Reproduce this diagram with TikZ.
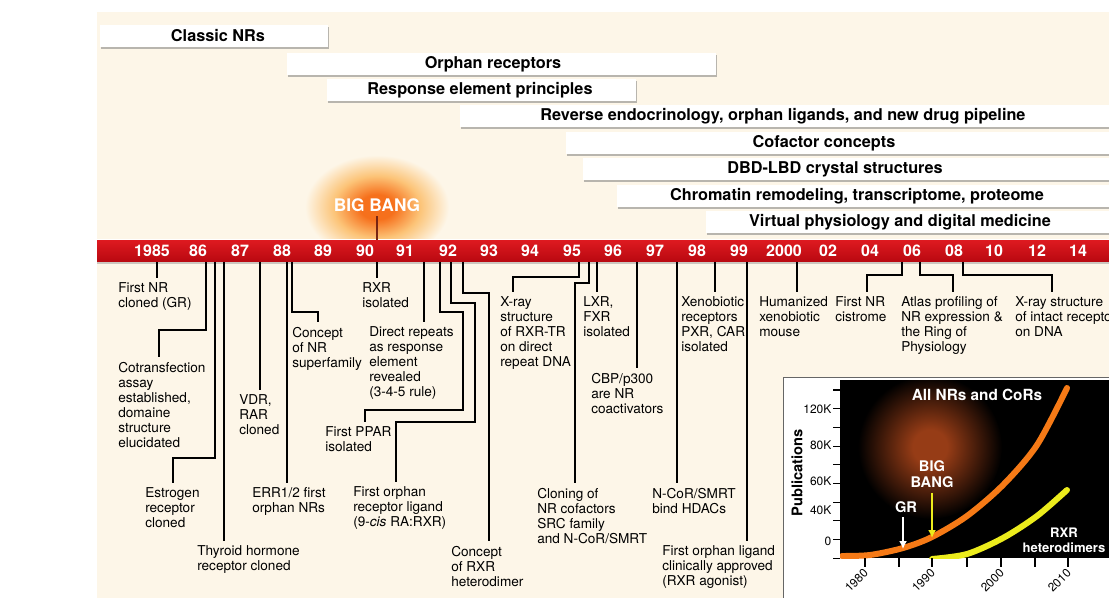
\documentclass[tikz,border=0pt]{standalone}
\usepackage{fontspec}
\setmainfont{TeX Gyre Heros}
\usetikzlibrary{shadows,arrows.meta}
\definecolor{cream}{RGB}{253,246,232}
\definecolor{barred}{RGB}{222,26,32}
\definecolor{bardark}{RGB}{184,8,16}
\definecolor{glowA}{RGB}{246,112,28}
\definecolor{glowB}{RGB}{252,196,120}
\definecolor{plotglowc}{RGB}{150,60,22}
\definecolor{curveor}{RGB}{246,122,22}
\definecolor{curveye}{RGB}{236,236,28}
\definecolor{bangbrown}{RGB}{120,36,18}
\pgfdeclareradialshading{bigglow}{\pgfpoint{0bp}{0bp}}{color(0bp)=(glowA); color(6bp)=(glowA); color(15bp)=(glowB); color(25bp)=(cream); color(50bp)=(cream)}
\pgfdeclareradialshading{plotglow}{\pgfpoint{0bp}{0bp}}{color(0bp)=(plotglowc); color(6bp)=(plotglowc); color(25bp)=(black); color(50bp)=(black)}
\tikzset{
  band/.style={fill=white, drop shadow={shadow xshift=0.6pt, shadow yshift=-1.8pt, opacity=0.55}},
  bandtxt/.style={font=\bfseries\fontsize{12.2}{14}\selectfont},
  year/.style={text=white, font=\bfseries\fontsize{12}{14}\selectfont},
  lab/.style={anchor=north west, align=left, inner xsep=0pt, inner ysep=3.5pt, font=\fontsize{10.2}{11.25}\selectfont},
  con/.style={line width=1.5pt},
  tickmark/.style={line width=0.8pt},
  ax/.style={font=\fontsize{9}{10}\selectfont},
  plottxt/.style={text=white, align=center, font=\bfseries\fontsize{11}{12.5}\selectfont}
}
\begin{document}
\begin{tikzpicture}[x=0.75pt, y=-0.75pt]
\useasboundingbox (0,0) rectangle (1109,598);
\clip (0,0) rectangle (1109,598);
\fill[white] (0,0) rectangle (1109,598);
\fill[cream] (97,12) rectangle (1109,598);

% research areas
\foreach \xa/\xb/\y/\tx/\txt [count=\i] in {
  100/328/36/218/Classic NRs,
  287/716/64/493/Orphan receptors,
  327/636/90/480/Response element principles,
  460/1120/116/783/{Reverse endocrinology, orphan ligands, and new drug pipeline},
  566/1120/143/824/Cofactor concepts,
  583/1120/169/835/DBD-LBD crystal structures,
  617/1120/196/857/{Chromatin remodeling, transcriptome, proteome},
  706/1120/222/900/Virtual physiology and digital medicine}
{
  \path[band] (\xa,\y-11) rectangle (\xb,\y+11);
  \node[bandtxt] (band\i) at (\tx,\y) {\txt};
}

% big bang
\path[shading=bigglow] (377,207) ellipse [x radius=72, y radius=52];
\node[text=white, font=\bfseries\fontsize{13}{15}\selectfont] (bang) at (377,205) {BIG BANG};

% time line
\node[top color=barred, bottom color=bardark, minimum width=759pt, minimum height=16.5pt, inner sep=0pt,
  drop shadow={shadow xshift=0pt, shadow yshift=-1.5pt, opacity=0.4}] (bar) at (603,251) {};
\draw[white, line width=0.8pt] (bar.north west) -- (bar.north east);
\draw[bangbrown, line width=1.6pt] (bang.south) -- (bang.south |- bar.north);
\foreach \yr/\x in {1985/152, 86/198, 87/240, 88/282, 89/323, 90/365, 91/405, 92/448, 93/489, 94/530,
  95/572, 96/613, 97/655, 98/697, 99/739, 2000/784, 02/828, 04/870, 06/912, 08/954, 10/994, 12/1037, 14/1078}
  \node[year] (y\yr) at (\x,251) {\yr};

% events
\node[lab] (gr) at (118,278) {First NR\\cloned (GR)};
\node[lab] (cotr) at (118,357) {Cotransfection\\assay\\established,\\domaine\\structure\\elucidated};
\node[lab] (er) at (145,483) {Estrogen\\receptor\\cloned};
\node[lab] (thr) at (197,541) {Thyroid hormone\\receptor cloned};
\node[lab] (vdr) at (239,390) {VDR,\\RAR\\cloned};
\node[lab] (err) at (252,483) {ERR1/2 first\\orphan NRs};
\node[lab] (sup) at (292,322) {Concept\\of NR\\superfamily};
\node[lab] (rxr) at (362,278) {RXR\\isolated};
\node[lab] (dr) at (369,322) {Direct repeats\\as response\\element\\revealed\\(3-4-5 rule)};
\node[lab] (ppar) at (325,422) {First PPAR\\isolated};
\node[lab] (orl) at (353,482) {First orphan\\receptor ligand\\(9-\textit{cis} RA:RXR)};
\node[lab] (rxh) at (451,541) {Concept\\of RXR\\heterodimer};
\node[lab] (xray) at (500,292) {X-ray\\structure\\of RXR-TR\\on direct\\repeat DNA};
\node[lab] (clo) at (537,483) {Cloning of\\NR cofactors\\SRC family\\and N-CoR/SMRT};
\node[lab] (lxr) at (583,292) {LXR,\\FXR\\isolated};
\node[lab] (cbp) at (591,368) {CBP/p300\\are NR\\coactivators};
\node[lab] (ncor) at (652,483) {N-CoR/SMRT\\bind HDACs};
\node[lab] (xen) at (681,292) {Xenobiotic\\receptors\\PXR, CAR\\isolated};
\node[lab] (fol) at (662,541) {First orphan ligand\\clinically approved\\(RXR agonist)};
\node[lab] (hum) at (759,292) {Humanized\\xenobiotic\\mouse};
\node[lab] (cis) at (835,292) {First NR\\cistrome};
\node[lab] (atl) at (901,292) {Atlas profiling of\\NR expression \&\\the Ring of\\Physiology};
\node[lab] (xin) at (1015,292) {X-ray structure\\of intact receptor\\on DNA};

\draw[con] (157,0 |- bar.south) -- (157,0 |- gr.north);
\draw[con] (206,0 |- bar.south) |- (159,330) -- (159,0 |- cotr.north);
\draw[con] (215,0 |- bar.south) |- (173,458) -- (173,0 |- er.north);
\draw[con] (224,0 |- bar.south) -- (224,0 |- thr.north);
\draw[con] (260,0 |- bar.south) -- (260,0 |- vdr.north);
\draw[con] (287,0 |- bar.south) -- (287,0 |- err.north);
\draw[con] (292,0 |- bar.south) |- (318,312) -- (318,0 |- sup.north);
\draw[con] (377,0 |- bar.south) -- (377,0 |- rxr.north);
\draw[con] (424,0 |- bar.south) -- (424,0 |- dr.north);
\draw[con] (440,0 |- bar.south) |- (463,312) |- (365,410) -- (365,0 |- ppar.north);
\draw[con] (451,0 |- bar.south) |- (475,303) |- (396,422) -- (396,0 |- orl.north);
\draw[con] (463,0 |- bar.south) |- (489,293) -- (489,0 |- rxh.north);
\draw[con] (579,0 |- bar.south) |- (513,277) -- (513,0 |- xray.north);
\draw[con] (589,0 |- bar.south) |- (575,283) -- (575,0 |- clo.north);
\draw[con] (597,0 |- bar.south) -- (597,0 |- lxr.north);
\draw[con] (637,0 |- bar.south) -- (637,0 |- cbp.north);
\draw[con] (677,0 |- bar.south) -- (677,0 |- ncor.north);
\draw[con] (715,0 |- bar.south) -- (715,0 |- xen.north);
\draw[con] (747,0 |- bar.south) -- (747,0 |- fol.north);
\draw[con] (797,0 |- bar.south) -- (797,0 |- hum.north);
\draw[con] (902,0 |- bar.south) |- (867,275) -- (867,0 |- cis.north);
\draw[con] (920,0 |- bar.south) |- (953,275) -- (953,0 |- atl.north);
\draw[con] (963,0 |- bar.south) |- (1052,275) -- (1052,0 |- xin.north);

% publications inset
\draw[black!60, fill=white, line width=0.6pt] (783,377) rectangle (1120,610);
\fill[black] (840,380) rectangle (1120,558);
\begin{scope}
  \clip (840,380) rectangle (1120,558);
  \path[shading=plotglow] (930,447) circle [radius=72];
  \draw[curveye, line width=4.5pt, line cap=round] plot[smooth] coordinates {(932,559) (967,554) (1003,538) (1037,516) (1067,490)};
  \draw[curveor, line width=4.5pt, line cap=round] plot[smooth] coordinates {(842,556) (870,555) (903,548) (932,537) (967,516) (1003,485) (1037,445) (1067,388)};
\end{scope}
\foreach \t in {0,...,9}
  \draw[tickmark] (833,390+\t*18.7) -- (840,390+\t*18.7);
\foreach \ylab/\y in {120K/409, 80K/445, 60K/481, 40K/510, 0/541}
  \node[ax, anchor=east, inner sep=1pt] (t\ylab) at (833,\y) {\ylab};
\foreach \x in {865,899,932,967,1001,1035,1068}
  \draw[tickmark] (\x,558) -- (\x,567);
\foreach \yr/\x in {1980/865, 1990/932, 2000/1001, 2010/1068}
  \node[ax, rotate=45, anchor=east, inner sep=1pt] (x\yr) at (\x+2,570) {\yr};
\node[rotate=90, font=\bfseries\fontsize{11}{13}\selectfont] (pub) at (797,473) {Publications};
\node[plottxt, font=\bfseries\fontsize{11.5}{13}\selectfont] (all) at (977,395) {All NRs and CoRs};
\node[plottxt] (bb) at (932,474) {BIG\\BANG};
\node[plottxt] (grl) at (906,507) {GR};
\node[plottxt, font=\bfseries\fontsize{9.8}{11.5}\selectfont] (rxrh) at (1064,540) {RXR\\heterodimers};
\coordinate (grpt) at (903,549);
\coordinate (bbpt) at (932,538);
\draw[white, line width=1.5pt, -{Latex[length=6pt,width=6pt]}] (grl.south -| grpt) -- (grpt);
\draw[curveye, line width=1.5pt, -{Latex[length=6pt,width=6pt]}] (bb.south) -- (bbpt);
\end{tikzpicture}
\end{document}
